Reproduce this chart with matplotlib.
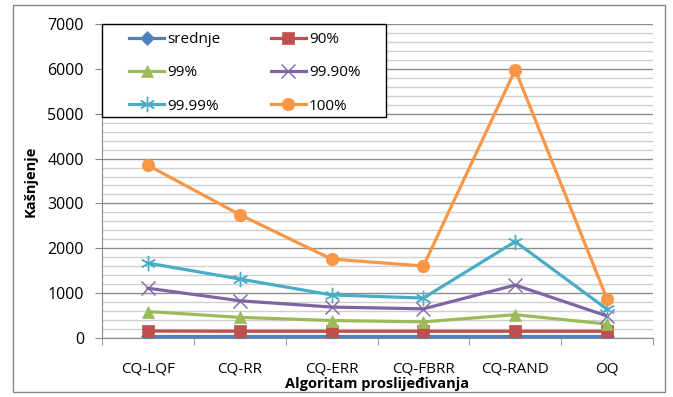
import numpy as np
import matplotlib.pyplot as plt
from matplotlib.patches import Rectangle
from matplotlib.ticker import MultipleLocator

plt.rcParams['font.family'] = ['Open Sans', 'DejaVu Sans']

algoritmi = ['CQ-LQF', 'CQ-RR', 'CQ-ERR', 'CQ-FBRR', 'CQ-RAND', 'OQ']
srednje = [45, 45, 45, 45, 45, 45]
p90 = [155, 150, 150, 150, 150, 150]
p99 = [590, 460, 390, 360, 520, 310]
p999 = [1110, 830, 690, 650, 1180, 490]
p9999 = [1670, 1315, 960, 890, 2150, 640]
p100 = [3850, 2750, 1760, 1605, 5980, 870]

series = [
    ('srednje', srednje, '#4F81BD', 'D', 7),
    ('90%', p90, '#C0504D', 's', 9),
    ('99%', p99, '#9BBB59', '^', 9),
    ('99.90%', p999, '#8064A2', 'x', 10),
    ('99.99%', p9999, '#4BACC6', (6, 2, 0), 11),
    ('100%', p100, '#F79646', 'o', 9),
]

fig = plt.figure(figsize=(6.73, 3.97), dpi=100)
fig.patches.append(Rectangle((13 / 673, 1 - 392 / 397), 652 / 673, 387 / 397,
                             transform=fig.transFigure, fill=False,
                             edgecolor='#888888', lw=1))
ax = fig.add_axes([102 / 673, 1 - 338 / 397, 551 / 673, 314 / 397])

x = np.arange(len(algoritmi))
lines = {}
for name, vals, col, mk, ms in series:
    thin = mk in ('x', (6, 2, 0))
    ln, = ax.plot(x, vals, color=col, lw=2.3, marker=mk, markersize=ms,
                  markeredgewidth=1.0 if thin else 0.5,
                  markeredgecolor=col, label=name, zorder=3)
    lines[name] = ln

ax.set_xlim(-0.5, len(algoritmi) - 0.5)
ax.set_ylim(0, 7000)
ax.yaxis.set_major_locator(MultipleLocator(1000))
ax.yaxis.set_minor_locator(MultipleLocator(200))
ax.set_xticks(x)
ax.set_xticklabels(algoritmi, fontsize=11)
ax.set_xticks(np.arange(-0.5, len(algoritmi)), minor=True)
ax.tick_params(axis='x', which='major', length=0, pad=17)
ax.tick_params(axis='x', which='minor', length=5, color='#888888', direction='out')
ax.tick_params(axis='y', which='major', length=5, color='#888888', labelsize=11.5, pad=8)
ax.tick_params(axis='y', which='minor', length=0)
ax.grid(True, axis='y', which='major', color='#8c8c8c', lw=1)
ax.grid(True, axis='y', which='minor', color='#cfcfcf', lw=1)
ax.set_axisbelow(True)
for s in ('top', 'right'):
    ax.spines[s].set_visible(False)
for s in ('left', 'bottom'):
    ax.spines[s].set_color('#888888')

ax.set_xlabel('Algoritam proslijeđivanja', fontsize=10.5, fontweight='bold', labelpad=0)
ax.set_ylabel('Kašnjenje', fontsize=10.5, fontweight='bold', labelpad=7)

# legend box (white, black border) drawn over the grid
ax.add_patch(Rectangle((0, (338 - 117) / 314), (386 - 102) / 551, (117 - 24) / 314,
                       transform=ax.transAxes, facecolor='white', edgecolor='black',
                       lw=1, zorder=4, clip_on=False))
order = ['srednje', '99%', '99.99%', '90%', '99.90%', '100%']
leg = ax.legend([lines[n] for n in order], order, ncol=2, loc='upper left',
                bbox_to_anchor=(27 / 551, 1 - 8 / 314), borderaxespad=0,
                fontsize=11, handlelength=2.3, labelspacing=1.2,
                columnspacing=3.3, borderpad=0, handletextpad=0.2,
                frameon=False)
leg.set_zorder(5)

fig.savefig('out.png', dpi=100)
